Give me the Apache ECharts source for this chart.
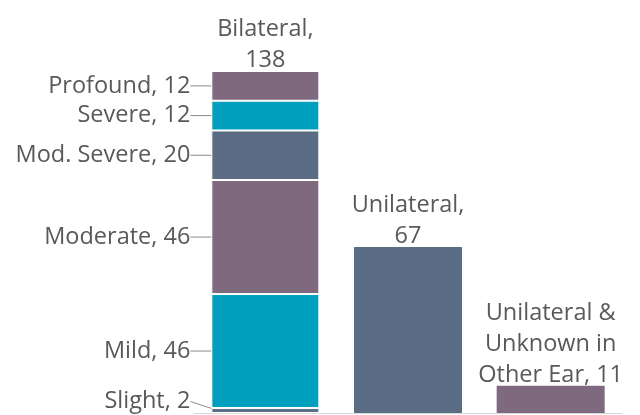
<!DOCTYPE html>
<html>
<head>
<meta charset="utf-8">
<script src="https://cdn.jsdelivr.net/npm/echarts@6/dist/echarts.min.js"></script>
<style>
  html, body { margin: 0; padding: 0; background: #fff; }
  #chart { width: 640px; height: 415px; }
</style>
</head>
<body>
<div id="chart"></div>
<script>
// categories and values
const categories = ['Bilateral', 'Unilateral', 'Unilateral & Unknown in Other Ear']
const topLabels = ['Bilateral,\n{v}', 'Unilateral,\n{v}', 'Unilateral &\nUnknown in\nOther Ear, {v}']
const severities = ['Slight', 'Mild', 'Moderate', 'Mod. Severe', 'Severe', 'Profound']
const bilateralValues = [2, 46, 46, 20, 12, 12]
const unilateralValues = ['-', 67, 11]
const totals = [138, 67, 11]

const PURPLE = '#7f697e'
const TEAL = '#009fbd'
const SLATE = '#5b6d84'
const sevColors = [SLATE, TEAL, PURPLE, SLATE, TEAL, PURPLE]
const textColor = '#595959'
const font = 'Open Sans'

const chart = echarts.init(document.getElementById('chart'))

// stacked segments of the bilateral bar, labels pushed left so the guide line shows
const sevSeries = severities.map((name, i) => ({
  name: name,
  type: 'bar',
  stack: 'a',
  barWidth: 108,
  data: [bilateralValues[i], '-', '-'],
  itemStyle: { color: sevColors[i], borderColor: '#fff', borderWidth: 1 },
  label: {
    show: true,
    position: 'left',
    distance: 3,
    color: textColor,
    fontFamily: font,
    fontSize: 23.5,
    formatter: p => name + ', ' + p.value
  },
  labelLine: { show: true, lineStyle: { color: '#8c8c8c', width: 1 } },
  labelLayout: i === 0 ? { dx: -18, dy: -9 } : { dx: -18 }
}))

const option = {
  animation: false,
  grid: { left: 194, right: 18, top: 71, bottom: 2 },
  xAxis: {
    type: 'category',
    data: categories,
    axisLine: { show: true, lineStyle: { color: '#d9d9d9', width: 1 } },
    axisTick: { show: false },
    axisLabel: { show: false }
  },
  yAxis: { type: 'value', min: 0, max: 138, show: false },
  series: sevSeries.concat([
    {
      name: 'Unilateral',
      type: 'bar',
      stack: 'a',
      barWidth: 108,
      data: unilateralValues.map((v, i) => ({
        value: v,
        itemStyle: { color: i === 2 ? PURPLE : SLATE }
      }))
    },
    {
      name: 'Total',
      type: 'bar',
      barWidth: 108,
      barGap: '-100%',
      z: 1,
      data: totals,
      itemStyle: { color: 'rgba(0,0,0,0)' },
      label: {
        show: true,
        position: 'top',
        distance: -5,
        color: textColor,
        fontFamily: font,
        fontSize: 23.5,
        lineHeight: 31,
        align: 'center',
        formatter: p => topLabels[p.dataIndex].replace('{v}', p.value)
      }
    }
  ])
}
chart.setOption(option)
</script>
</body>
</html>
